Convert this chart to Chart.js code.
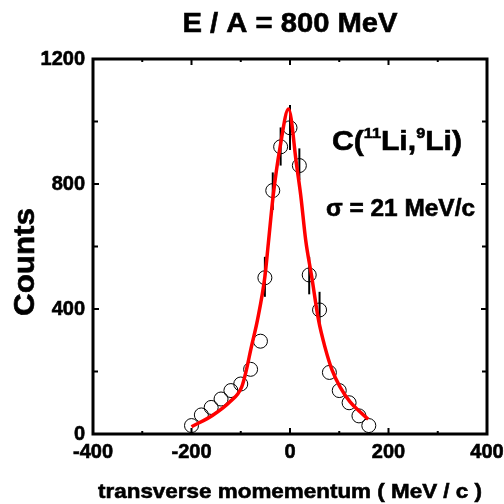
<!DOCTYPE html>
<html>
<head>
<meta charset="utf-8">
<script src="https://cdn.jsdelivr.net/npm/chart.js@4.4.1/dist/chart.umd.min.js"></script>
<style>
html,body{margin:0;padding:0;background:#fff;}
#wrap{width:504px;height:504px;position:relative;}
</style>
</head>
<body>
<div id="wrap"><canvas id="c" width="504" height="504"></canvas></div>
<script>
// ---- data ----
const pointX = [-200,-180,-160,-140,-120,-100,-80,-60,-51,-35,-19,0,19,39,60,80,100,120,140,160];
const pointY = [27,61,85,112,139,160,207,297,500,779,919,980,859,509,397,197,139,100,58,27];
const errLow  = [null,null,null,null,null,null,null,null,439,717,859,909,813,447,349,null,null,null,null,null];
const errHigh = [null,null,null,null,null,null,null,null,567,837,981,1053,914,567,455,null,null,null,null,null];

const fitX = [-200,-156,-122,-98,-89,-79,-66,-51,-44,-34,-20,-3,13.5,21.7,31.9,44.1,57.9,71,85.3,101.5,122,142,159];
const fitY = [23,61,103,151,202,275,365,503,610,765,919,1040,859,765,620,503,365,278,205,151,103,71,47];

const xTickLabels = [-400,-200,0,200,400];
const yTickLabels = [0,400,800,1200];
const xMinorTicks = [-400,-300,-200,-100,0,100,200,300,400];
const yMinorTicks = [0,200,400,600,800,1000,1200];

const titleText = 'E / A = 800 MeV';
const xTitle = 'transverse momementum ( MeV / c )';
const yTitle = 'Counts';
const sigmaText = 'σ = 21 MeV/c';

const FONT = '"Liberation Sans", Arial, sans-serif';

function fitText(ctx, str, font, x, y, align, targetW){
  ctx.save();
  ctx.font = font;
  const w = ctx.measureText(str).width;
  const s = targetW ? targetW / w : 1;
  ctx.translate(x, y);
  ctx.scale(s, 1);
  ctx.textAlign = align;
  ctx.fillText(str, 0, 0);
  ctx.lineWidth = 0.6;
  ctx.strokeText(str, 0, 0);
  ctx.restore();
}

const decor = {
  id: 'decor',
  beforeDatasetsDraw(chart){
    const ctx = chart.ctx, xs = chart.scales.x, ys = chart.scales.y;
    ctx.save();
    ctx.strokeStyle = '#000';
    ctx.lineWidth = 2;
    for (let i = 0; i < pointX.length; i++){
      if (errLow[i] == null) continue;
      const px = xs.getPixelForValue(pointX[i]);
      ctx.beginPath();
      ctx.moveTo(px, ys.getPixelForValue(errLow[i]));
      ctx.lineTo(px, ys.getPixelForValue(errHigh[i]));
      ctx.stroke();
    }
    ctx.restore();
  },
  afterDraw(chart){
    const ctx = chart.ctx, xs = chart.scales.x, ys = chart.scales.y, a = chart.chartArea;
    ctx.save();
    ctx.strokeStyle = '#000';
    ctx.fillStyle = '#000';
    // ticks inward
    ctx.lineWidth = 2;
    xMinorTicks.forEach(v => {
      const px = xs.getPixelForValue(v);
      const len = (v % 200 === 0) ? 6 : 3;
      ctx.beginPath();
      ctx.moveTo(px, a.bottom); ctx.lineTo(px, a.bottom - len);
      ctx.moveTo(px, a.top); ctx.lineTo(px, a.top + len);
      ctx.stroke();
    });
    yMinorTicks.forEach(v => {
      const py = ys.getPixelForValue(v);
      const len = (v % 400 === 0) ? 6 : 5;
      ctx.beginPath();
      ctx.moveTo(a.left, py); ctx.lineTo(a.left + len, py);
      ctx.moveTo(a.right, py); ctx.lineTo(a.right - len, py);
      ctx.stroke();
    });
    // frame
    ctx.lineWidth = 3;
    ctx.strokeRect(a.left, a.top, a.right - a.left, a.bottom - a.top);

    // tick labels
    ctx.textBaseline = 'middle';
    xTickLabels.forEach(v => {
      fitText(ctx, String(v), 'bold 20px ' + FONT, xs.getPixelForValue(v), a.bottom + 18, 'center');
    });
    yTickLabels.forEach(v => {
      fitText(ctx, String(v), 'bold 20px ' + FONT, a.left - 8, ys.getPixelForValue(v), 'right');
    });

    // titles
    fitText(ctx, titleText, 'bold 28px ' + FONT, 290, 24, 'center', 215);
    fitText(ctx, xTitle, 'bold 21px ' + FONT, 290, 492, 'center', 384);
    ctx.save();
    ctx.translate(26, 262);
    ctx.rotate(-Math.PI/2);
    fitText(ctx, yTitle, 'bold 30px ' + FONT, 0, 0, 'center', 108);
    ctx.restore();

    // annotation C(11Li,9Li)
    ctx.textBaseline = 'alphabetic';
    const big = 'bold 28px ' + FONT, small = 'bold 15px ' + FONT;
    const parts = [['C(', big, 0], ['11', small, -12], ['Li,', big, 0], ['9', small, -12], ['Li)', big, 0]];
    let total = 0;
    parts.forEach(p => { ctx.font = p[1]; total += ctx.measureText(p[0]).width; });
    const sc = 130 / total;
    ctx.save();
    ctx.translate(332, 150);
    ctx.scale(sc, 1);
    ctx.lineWidth = 0.6;
    let cx = 0;
    parts.forEach(p => {
      ctx.font = p[1];
      ctx.textAlign = 'left';
      ctx.fillText(p[0], cx, p[2]);
      ctx.strokeText(p[0], cx, p[2]);
      cx += ctx.measureText(p[0]).width;
    });
    ctx.restore();

    fitText(ctx, sigmaText, 'bold 24px ' + FONT, 326, 216, 'left', 149);
    ctx.restore();
  }
};

const pts = pointX.map((x, i) => ({x, y: pointY[i]}));
const fit = fitX.map((x, i) => ({x, y: fitY[i]}));

new Chart(document.getElementById('c'), {
  type: 'scatter',
  data: {
    datasets: [
      {
        label: 'fit',
        data: fit,
        showLine: true,
        borderColor: 'rgb(255,0,0)',
        borderWidth: 3.5,
        pointRadius: 0,
        cubicInterpolationMode: 'monotone',
        order: 0
      },
      {
        label: 'data',
        data: pts,
        showLine: false,
        pointRadius: 7,
        pointBorderColor: '#000',
        pointBackgroundColor: 'rgba(0,0,0,0)',
        pointBorderWidth: 1,
        order: 1
      }
    ]
  },
  options: {
    responsive: false,
    animation: false,
    devicePixelRatio: 1,
    layout: { padding: { top: 59, right: 17, left: 0, bottom: 0 } },
    plugins: { legend: { display: false }, tooltip: { enabled: false } },
    scales: {
      x: {
        type: 'linear', min: -400, max: 400,
        grid: { display: false }, border: { display: false },
        ticks: { display: false },
        afterFit: s => { s.height = 70; }
      },
      y: {
        type: 'linear', min: 0, max: 1200,
        grid: { display: false }, border: { display: false },
        ticks: { display: false },
        afterFit: s => { s.width = 93; }
      }
    }
  },
  plugins: [decor]
});
</script>
</body>
</html>
